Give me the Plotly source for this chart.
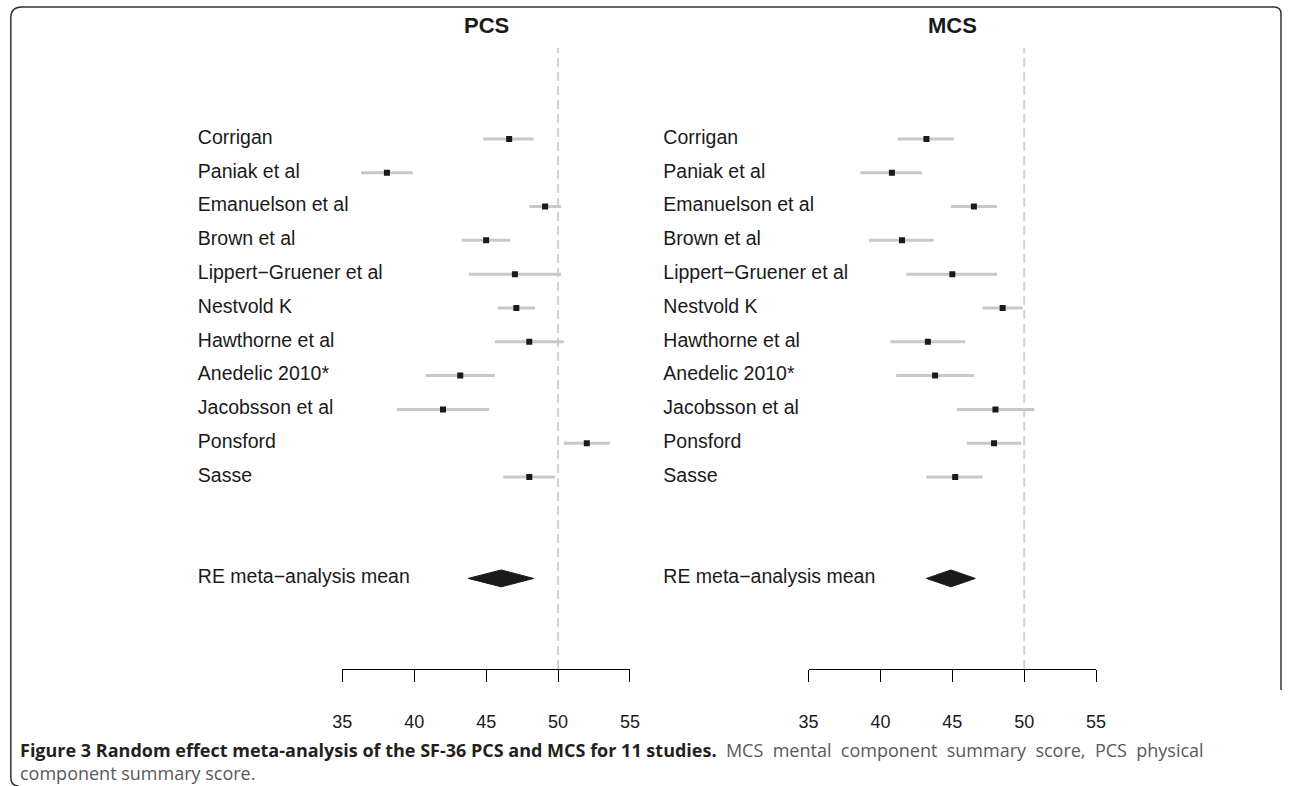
import plotly.graph_objects as go

# ---------------- data ----------------
studies = ["Corrigan", "Paniak et al", "Emanuelson et al", "Brown et al",
           "Lippert\u2212Gruener et al", "Nestvold K", "Hawthorne et al",
           "Anedelic 2010*", "Jacobsson et al", "Ponsford", "Sasse"]
re_label = "RE meta\u2212analysis mean"

pcs_mean = [46.6, 38.1, 49.1, 45.0, 47.0, 47.1, 48.0, 43.2, 42.0, 52.0, 48.0]
pcs_lo   = [44.8, 36.3, 48.0, 43.3, 43.8, 45.8, 45.6, 40.8, 38.8, 50.4, 46.2]
pcs_hi   = [48.3, 39.9, 50.2, 46.7, 50.2, 48.4, 50.4, 45.6, 45.2, 53.6, 49.8]

mcs_mean = [43.2, 40.8, 46.5, 41.5, 45.0, 48.5, 43.3, 43.8, 48.0, 47.9, 45.2]
mcs_lo   = [41.2, 38.6, 44.9, 39.2, 41.8, 47.1, 40.7, 41.1, 45.3, 46.0, 43.2]
mcs_hi   = [45.1, 42.9, 48.1, 43.7, 48.1, 49.9, 45.9, 46.5, 50.7, 49.8, 47.1]

pcs_re = {"mean": 46.05, "lo": 43.75, "hi": 48.3}
mcs_re = {"mean": 44.9, "lo": 43.2, "hi": 46.6}

tick_vals = [35, 40, 45, 50, 55]
ref_value = 50
panel_titles = ["PCS", "MCS"]
caption_bold = "Figure 3 Random effect meta-analysis of the SF-36 PCS and MCS for 11 studies."
caption_rest1 = "MCS mental component summary score, PCS physical"
caption_rest2 = "component summary score."

# ---------------- layout helpers ----------------
W, H = 1292, 786
n = len(studies)
rows = [n + 2 - i for i in range(n)]   # study rows, RE row at 0
re_row = 0
y_lo, y_hi = -2.68, 15.69
diamond_half = 0.25

def px_x(p):
    # horizontal pixel target -> paper fraction
    return ((p - 10.0) / 0.9835) / W

def px_y(p):
    return 1 - p / H

fig = go.Figure()

panels = [
    ("x", "x3", pcs_mean, pcs_lo, pcs_hi, pcs_re),
    ("x2", "x4", mcs_mean, mcs_lo, mcs_hi, mcs_re),
]

for ax, lab_ax, mean, lo, hi, re in panels:
    fig.add_trace(go.Scatter(
        x=[ref_value, ref_value], y=[y_lo, y_hi], mode="lines",
        line=dict(color="#d2d2d2", width=2, dash="9px,5px"),
        xaxis=ax, yaxis="y", hoverinfo="skip", showlegend=False))
    fig.add_trace(go.Scatter(
        x=mean, y=rows, mode="markers",
        marker=dict(symbol="square", size=6, color="#1a1a1a"),
        error_x=dict(type="data", symmetric=False,
                     array=[h - m for h, m in zip(hi, mean)],
                     arrayminus=[m - l for m, l in zip(mean, lo)],
                     color="#c8c8c8", thickness=3, width=0),
        xaxis=ax, yaxis="y", showlegend=False))
    fig.add_trace(go.Scatter(
        x=[re["lo"], re["mean"], re["hi"], re["mean"], re["lo"]],
        y=[re_row, re_row + diamond_half, re_row, re_row - diamond_half, re_row],
        mode="lines", fill="toself", fillcolor="#1a1a1a",
        line=dict(color="#1a1a1a", width=1),
        xaxis=ax, yaxis="y", showlegend=False, hoverinfo="skip"))
    fig.add_trace(go.Scatter(
        x=[0.0] * (n + 1), y=rows + [re_row], mode="text",
        text=studies + [re_label], textposition="middle right",
        textfont=dict(family="Liberation Sans, Arial, sans-serif", size=19.5, color="#1a1a1a"),
        cliponaxis=False, xaxis=lab_ax, yaxis="y", showlegend=False, hoverinfo="skip"))

axis_common = dict(
    range=[35, 55], tickvals=tick_vals, ticks="outside", ticklen=12,
    tickcolor="black", tickwidth=1, showline=True, linecolor="black", linewidth=1,
    showgrid=False, zeroline=False, anchor="y", fixedrange=True,
    tickfont=dict(family="Liberation Sans, Arial, sans-serif", size=18, color="#1a1a1a"),
    ticklabelstandoff=24,
)
label_axis = dict(range=[-0.02, 1], visible=False, anchor="y", fixedrange=True)

fig.update_layout(
    width=W, height=H, autosize=False,
    margin=dict(l=0, r=0, t=0, b=0),
    paper_bgcolor="white", plot_bgcolor="white",
    xaxis=dict(domain=[px_x(342), px_x(629.3)], **axis_common),
    xaxis2=dict(domain=[px_x(807.7), px_x(1095.0)], **axis_common),
    xaxis3=dict(domain=[px_x(195.0), px_x(330)], **label_axis),
    xaxis4=dict(domain=[px_x(660.0), px_x(796)], **label_axis),
    yaxis=dict(domain=[px_y(669), px_y(48)], range=[y_lo, y_hi],
               showgrid=False, zeroline=False, showticklabels=False,
               showline=False, ticks="", fixedrange=True),
)

annotations = []
for ax, title in zip(["x", "x2"], panel_titles):
    annotations.append(dict(
        xref=ax, yref="paper", x=45, y=px_y(25), xanchor="center", yanchor="middle",
        text=f"<b>{title}</b>", showarrow=False,
        font=dict(family="Liberation Sans, Arial, sans-serif", size=22, color="#1a1a1a")))

# justified first caption line: slightly widen the gaps of the regular part
rest1_justified = (" \u00a0").join(caption_rest1.split(" "))
annotations.append(dict(
    xref="paper", yref="paper", x=px_x(18), y=px_y(761), xanchor="left", yanchor="middle",
    showarrow=False, align="left",
    font=dict(family="Open Sans, sans-serif", size=18, color="#231f20"),
    text=f"<b>{caption_bold}</b> \u00a0<span style='color:#58595b'>{rest1_justified}</span>"
         f"<br><span style='color:#58595b'>{caption_rest2}</span>"))
fig.update_layout(annotations=annotations)

# rounded frame
fx0, fx1 = 0.8, 1291.0
path = (f"M {(fx0 + 8) / W},{px_y(786)} Q {fx0 / W},{px_y(786)} {fx0 / W},{px_y(777)} "
        f"L {fx0 / W},{px_y(18)} Q {fx0 / W},{px_y(7)} {(fx0 + 11) / W},{px_y(7)} "
        f"L {(fx1 - 7) / W},{px_y(7)} Q {fx1 / W},{px_y(7)} {fx1 / W},{px_y(14)} "
        f"L {fx1 / W},{px_y(690)}")
fig.add_shape(type="path", xref="paper", yref="paper", path=path,
              line=dict(color="#333333", width=1.5))

fig.write_html(
    "out.html",
    config={"displayModeBar": False},
    post_script="document.body.style.margin='0';document.body.style.overflow='hidden';"
                "document.documentElement.style.overflow='hidden';",
)
